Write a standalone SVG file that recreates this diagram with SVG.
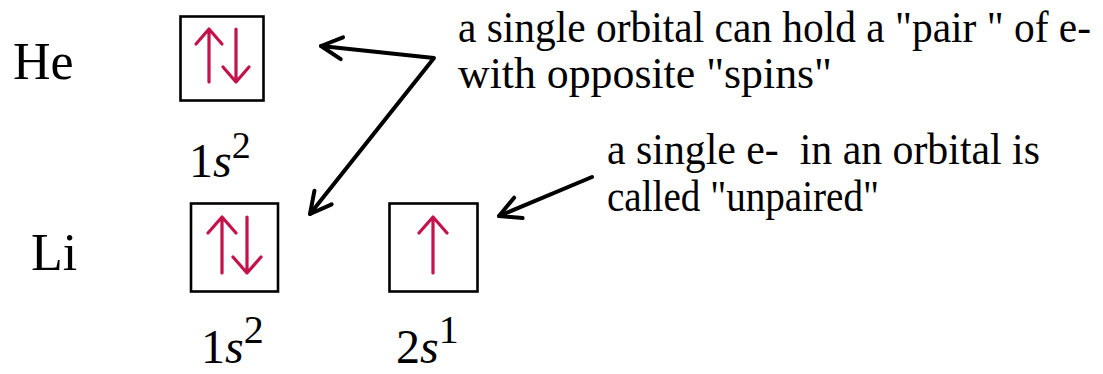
<svg xmlns="http://www.w3.org/2000/svg" width="1103" height="374" viewBox="0 0 1103 374">
  <defs>
    <style>
      text { font-family: 'Liberation Serif', 'Times New Roman', serif; fill: #000; }
      .sym { font-size: 52px; }
      .cfg { font-size: 48px; }
      .it { font-style: italic; }
      .note { font-size: 45px; }
      .box { fill: none; stroke: #000; stroke-width: 2.6; }
      .spin { fill: none; stroke: #c4124a; stroke-width: 3.2; stroke-linecap: round; stroke-linejoin: round; }
      .conn { fill: none; stroke: #000; stroke-width: 4; stroke-linecap: round; stroke-linejoin: round; }
    </style>
    <marker id="head" markerUnits="userSpaceOnUse" viewBox="-25 -14 29 28" refX="0" refY="0" markerWidth="29" markerHeight="28" orient="auto-start-reverse">
      <path d="M -21,-11 L 0,0 L -21,11" fill="none" stroke="#000" stroke-width="4" stroke-linecap="round" stroke-linejoin="round"/>
    </marker>
  </defs>
  <rect width="1103" height="374" fill="#fff"/>

  <g id="he-label">
    <text class="sym" x="13" y="79">He</text>
  </g>
  <g id="he-1s">
    <rect class="box" x="180.5" y="16.5" width="83" height="84"/>
    <path class="spin" d="M209,82 V29 M196,44 L209,29 L222,44"/>
    <path class="spin" d="M236,29 V82 M223,67 L236,82 L249,67"/>
    <text class="cfg" x="189" y="177">1<tspan class="it">s</tspan><tspan font-size="38" dy="-19">2</tspan></text>
  </g>

  <g id="li-label">
    <text class="sym" x="31" y="270">Li</text>
  </g>
  <g id="li-1s">
    <rect class="box" x="191" y="203.5" width="87" height="88"/>
    <path class="spin" d="M222,273 V217 M208,233 L222,217 L236,233"/>
    <path class="spin" d="M247,217 V273 M233,257 L247,273 L261,257"/>
    <text class="cfg" x="201" y="363" font-size="51">1<tspan class="it">s</tspan><tspan font-size="40" dy="-20">2</tspan></text>
  </g>
  <g id="li-2s">
    <rect class="box" x="389.5" y="203.5" width="88" height="88"/>
    <path class="spin" d="M433,273 V217 M419,233 L433,217 L447,233"/>
    <text class="cfg" x="396" y="363" font-size="51">2<tspan class="it">s</tspan><tspan font-size="40" dy="-20">1</tspan></text>
  </g>

  <g id="note-pair">
    <text class="note" x="458" y="42" textLength="633" lengthAdjust="spacingAndGlyphs">a single orbital can hold a "pair " of e-</text>
    <text class="note" x="458" y="88" textLength="374" lengthAdjust="spacingAndGlyphs">with opposite "spins"</text>
  </g>
  <g id="note-unpaired">
    <text class="note" x="607" y="164" textLength="433" lengthAdjust="spacingAndGlyphs" xml:space="preserve">a single e-  in an orbital is</text>
    <text class="note" x="607" y="211" textLength="272" lengthAdjust="spacingAndGlyphs">called "unpaired"</text>
  </g>

  <g id="connectors">
    <path class="conn" d="M321,46 L434,58 L310,214" marker-start="url(#head)" marker-end="url(#head)"/>
    <path class="conn" d="M592,177 L499,216" marker-end="url(#head)"/>
  </g>
</svg>
